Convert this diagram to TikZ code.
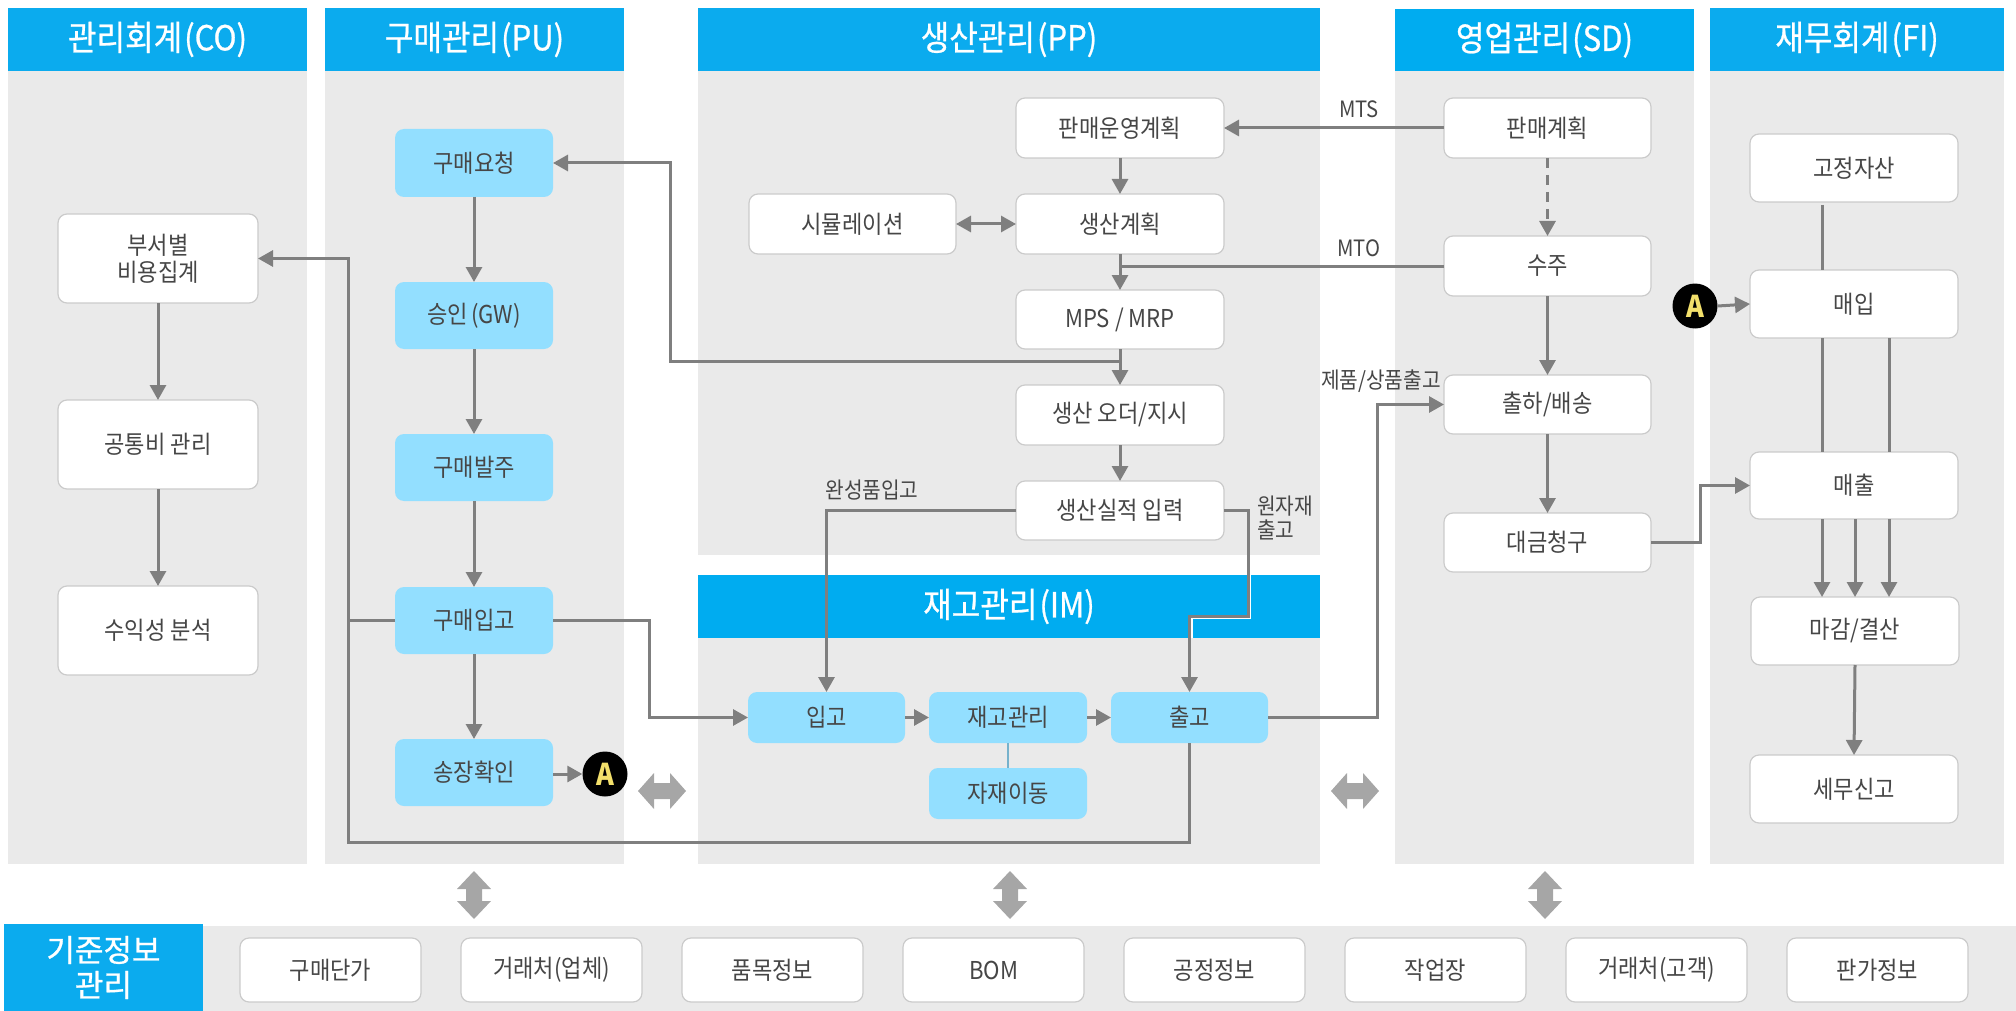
\documentclass[tikz,border=0pt]{standalone}
\usepackage{fontspec}
\usetikzlibrary{arrows.meta,calc}
\setmainfont{Noto Sans CJK KR}[FakeStretch=0.9]
\newfontfamily\hfont{Noto Sans CJK KR}[FakeStretch=0.9,FakeBold=0.7]
\newfontfamily\tfont{Noto Sans CJK KR}[FakeBold=0.9]
\definecolor{hdr}{HTML}{0BABEE}
\definecolor{hdrb}{HTML}{00ACF0}
\definecolor{panel}{HTML}{EAEAEA}
\definecolor{lblue}{HTML}{93DFFF}
\definecolor{edge}{HTML}{CBCBCB}
\definecolor{flow}{HTML}{7F7F7F}
\definecolor{txt}{HTML}{464646}
\definecolor{dbl}{HTML}{A6A6A6}
\definecolor{ayel}{HTML}{F3E06B}
\tikzset{
  base/.style={inner sep=0pt,outer sep=0pt,align=center,text=txt,font=\fontsize{24.6}{29}\selectfont},
  wbox/.style={base,draw=edge,line width=1.2pt,fill=white,rounded corners=9pt},
  bbox/.style={base,fill=lblue,rounded corners=9pt},
  head/.style={base,fill=hdr,text=white,font=\hfont\fontsize{34.5}{40}\selectfont},
  headb/.style={head,fill=hdrb},
  headt/.style={head,font=\tfont\fontsize{31}{38}\selectfont},
  pnl/.style={fill=panel,draw=none},
  flowline/.style={draw=flow,line width=3pt},
  flowarrow/.style={flowline,-{Triangle[length=15pt,width=16pt]}},
  biarrow/.style={flowline,{Triangle[length=15pt,width=16pt]}-{Triangle[length=15pt,width=16pt]}},
  lab/.style={inner sep=0pt,text=txt,align=left,font=\fontsize{22.5}{27}\selectfont},
  amark/.style={circle,fill=black,inner sep=0pt,minimum size=45pt,text=ayel,font=\fontsize{30}{32}\bfseries\selectfont},
}
\newcommand{\Bx}[7][wbox]{\node[#1,minimum width={(#5-#3)*1pt},minimum height={(#6-#4)*1pt}] (#2) at ({(#3+#5)/2},{(#4+#6)/2}) {#7};}
% vertical / horizontal thick double arrows
\newcommand{\VDbl}[2]{\fill[dbl] (#1,#2-24) -- (#1+17,#2-6) -- (#1+8,#2-6) -- (#1+8,#2+6) -- (#1+17,#2+6) -- (#1,#2+24) -- (#1-17,#2+6) -- (#1-8,#2+6) -- (#1-8,#2-6) -- (#1-17,#2-6) -- cycle;}
\newcommand{\HDbl}[2]{\fill[dbl] (#1-24,#2) -- (#1-8,#2-18) -- (#1-8,#2-8) -- (#1+8,#2-8) -- (#1+8,#2-18) -- (#1+24,#2) -- (#1+8,#2+18) -- (#1+8,#2+8) -- (#1-8,#2+8) -- (#1-8,#2+18) -- cycle;}
\begin{document}
\begin{tikzpicture}[x=1pt,y=-1pt]
\useasboundingbox (0,0) rectangle (2016,1011);
% panels
\fill[pnl] (8,71) rectangle (307,864);
\fill[pnl] (325,71) rectangle (624,864);
\fill[pnl] (698,71) rectangle (1320,555);
\fill[pnl] (698,638) rectangle (1320,864);
\fill[pnl] (1395,71) rectangle (1694,864);
\fill[pnl] (1710,71) rectangle (2004,864);
\fill[pnl] (203,926) rectangle (2016,1011);
% headers
\Bx[head]{hco}{8}{8}{307}{71}{관리회계\kern2pt(CO)}
\Bx[head]{hpu}{325}{8}{624}{71}{구매관리\kern2pt(PU)}
\Bx[head]{hpp}{698}{8}{1320}{71}{생산관리\kern2pt(PP)}
\Bx[headb]{him}{698}{575}{1320}{638}{재고관리\kern2pt(IM)}
\Bx[headb]{hsd}{1395}{9}{1694}{71}{영업관리\kern2pt(SD)}
\Bx[head]{hfi}{1710}{8}{2004}{71}{재무회계\kern2pt(FI)}
\Bx[headt]{hmd}{4}{924}{203}{1011}{기준정보\\[-3pt]관리}
% CO
\Bx{co1}{58}{214}{258}{303}{부서별\\[-2pt]비용집계}
\Bx{co2}{58}{400}{258}{489}{공통비 관리}
\Bx{co3}{58}{586}{258}{675}{수익성 분석}
% PU
\Bx[bbox]{pu1}{395}{129}{553}{197}{구매요청}
\Bx[bbox]{pu2}{395}{282}{553}{349}{승인\kern3pt(GW)}
\Bx[bbox]{pu3}{395}{434}{553}{501}{구매발주}
\Bx[bbox]{pu4}{395}{587}{553}{654}{구매입고}
\Bx[bbox]{pu5}{395}{739}{553}{806}{송장확인}
% PP
\Bx{pp1}{1016}{98}{1224}{158}{판매운영계획}
\Bx{pps}{749}{194}{956}{254}{시뮬레이션}
\Bx{pp2}{1016}{194}{1224}{254}{생산계획}
\Bx{pp3}{1016}{290}{1224}{349}{MPS / MRP}
\Bx{pp4}{1016}{385}{1224}{445}{생산 오더/지시}
\Bx{pp5}{1016}{481}{1224}{540}{생산실적 입력}
% IM
\Bx[bbox]{im1}{748}{692}{905}{743}{입고}
\Bx[bbox]{im2}{929}{692}{1087}{743}{재고관리}
\Bx[bbox]{im3}{1111}{692}{1268}{743}{출고}
\Bx[bbox]{im4}{929}{768}{1087}{819}{자재이동}
% SD
\Bx{sd1}{1444}{98}{1651}{158}{판매계획}
\Bx{sd2}{1444}{236}{1651}{296}{수주}
\Bx{sd3}{1444}{375}{1651}{434}{출하/배송}
\Bx{sd4}{1444}{513}{1651}{572}{대금청구}
% FI
\Bx{fi1}{1750}{134}{1958}{202}{고정자산}
\Bx{fi2}{1750}{270}{1958}{338}{매입}
\Bx{fi3}{1750}{452}{1958}{519}{매출}
\Bx{fi4}{1751}{597}{1959}{665}{마감/결산}
\Bx{fi5}{1750}{755}{1958}{823}{세무신고}
% master data
\Bx{m1}{240}{938}{421}{1002}{구매단가}
\Bx{m2}{461}{938}{642}{1002}{거래처(업체)}
\Bx{m3}{682}{938}{863}{1002}{품목정보}
\Bx{m4}{903}{938}{1084}{1002}{BOM}
\Bx{m5}{1124}{938}{1305}{1002}{공정정보}
\Bx{m6}{1345}{938}{1526}{1002}{작업장}
\Bx{m7}{1566}{938}{1747}{1002}{거래처(고객)}
\Bx{m8}{1787}{938}{1968}{1002}{판가정보}
% markers
\node[amark] (a1) at (605,774) {A};
\node[amark] (a2) at (1695,306) {A};
% waypoint coordinates
\coordinate (xback) at (348,0);
\coordinate (ybot) at (0,842);
\coordinate (jmps) at ($(pp3.south)+(0,12)$);
\coordinate (jmto) at (1120,266);
\coordinate (xreq) at (670,0);
\coordinate (xin) at (649,0);
\coordinate (xraw) at (1248,0);
\coordinate (yraw) at (0,616);
\coordinate (xship) at (1377,0);
\coordinate (xbill) at (1700,0);
\coordinate (xa) at (1822,0);
\coordinate (xb) at (1855,0);
\coordinate (xc) at (1889,0);
% CO flows
\draw[flowarrow] (co1) -- (co2);
\draw[flowarrow] (co2) -- (co3);
% PU flows
\draw[flowarrow] (pu1) -- (pu2);
\draw[flowarrow] (pu2) -- (pu3);
\draw[flowarrow] (pu3) -- (pu4);
\draw[flowarrow] (pu4) -- (pu5);
\draw[flowarrow] (pu5.east |- a1.west) -- (a1.west);
% long return
\draw[flowarrow] (im3.south) |- (xback |- ybot) -- (xback |- co1.east) -- (co1.east);
\draw[flowline] (pu4.west) -- (xback |- pu4.west);
\draw[flowarrow] (pu4.east) -- (xin |- pu4.east) -- (xin |- im1.west) -- (im1.west);
% PP flows
\draw[flowarrow] (pp1) -- (pp2);
\draw[biarrow] (pps) -- (pp2);
\draw[flowarrow] (pp2) -- (pp3);
\draw[flowarrow] (pp3) -- (pp4);
\draw[flowarrow] (pp4) -- (pp5);
\draw[flowarrow] (jmps) -- (xreq |- jmps) -- (xreq |- pu1.east) -- (pu1.east);
\draw[flowline] (sd2.west) -- (jmto);
\draw[flowarrow] (sd1) -- (pp1);
\draw[flowarrow] (pp5.west) -| (im1.north);
\draw[line width=1.6pt,white] ($(xraw |- him.north)+(2.4,0)$) -- ($(xraw |- yraw)+(2.4,2.4)$) -- ($(im3.north |- yraw)+(2.4,2.4)$) -- ($(im3.north |- him.south)+(2.4,0)$);
\draw[flowarrow] (pp5.east) -- (xraw |- pp5.east) -- (xraw |- yraw) -- (im3.north |- yraw) -- (im3.north);
% IM flows
\draw[flowarrow] (im1) -- (im2);
\draw[flowarrow] (im2) -- (im3);
\draw[line width=1.2pt,color=lblue!80!black] (im2) -- (im4);
\draw[flowarrow] (im3.east) -- (xship |- im3.east) -- (xship |- sd3.west) -- (sd3.west);
% SD flows
\draw[flowarrow,dash pattern=on 10pt off 7pt] (sd1) -- (sd2);
\draw[flowarrow] (sd2) -- (sd3);
\draw[flowarrow] (sd3) -- (sd4);
\draw[flowarrow] (sd4.east) -- (xbill |- sd4.east) -- (xbill |- fi3.west) -- (fi3.west);
% FI flows
\draw[flowarrow] (a2.east) -- (fi2.west);
\draw[flowline,shorten <=3pt] (fi1.south -| xa) -- (fi2.north -| xa);
\draw[flowline] (fi2.south -| xa) -- (fi3.north -| xa);
\draw[flowline] (fi2.south -| xc) -- (fi3.north -| xc);
\draw[flowarrow] (fi3.south -| xa) -- (fi4.north -| xa);
\draw[flowarrow] (fi3.south -| xb) -- (fi4.north -| xb);
\draw[flowarrow] (fi3.south -| xc) -- (fi4.north -| xc);
\draw[flowarrow] (fi4.south) -- (fi5.north);
% labels
\node[lab,anchor=center] (lmts) at (1359,109) {MTS};
\node[lab,anchor=center] (lmto) at (1359,248) {MTO};
\node[lab,anchor=center] (lout) at (1381,381) {제품/상품출고};
\node[lab,anchor=center] (lfin) at (872,490) {완성품입고};
\node[lab,anchor=west] (lraw) at (1257,518) {원자재\\[-3pt]출고};
% thick double arrows
\VDbl{474}{895}
\VDbl{1010}{895}
\VDbl{1545}{895}
\HDbl{662}{791}
\HDbl{1355}{791}
\end{tikzpicture}
\end{document}
